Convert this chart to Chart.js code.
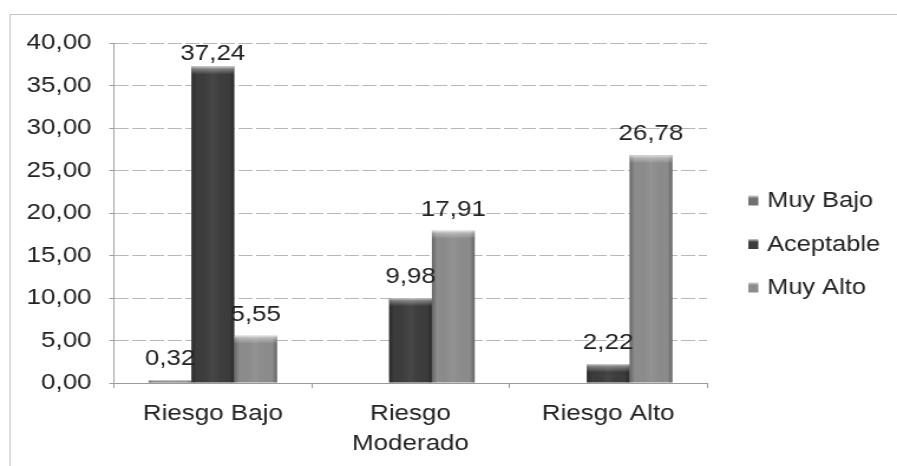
<!DOCTYPE html>
<html>
<head>
<meta charset="utf-8">
<script src="https://cdn.jsdelivr.net/npm/chart.js@4/dist/chart.umd.min.js"></script>
<style>
  html, body { margin: 0; padding: 0; background: #ffffff; }
</style>
</head>
<body>
<!-- the chart is laid out on a narrower canvas and shown stretched to the page width -->
<canvas id="chart" width="760" height="466" style="display:block;width:897px;height:466px;"></canvas>
<script>
// Categories and series
const categories = ['Riesgo Bajo', ['Riesgo', 'Moderado'], 'Riesgo Alto'];
const seriesNames = ['Muy Bajo', 'Aceptable', 'Muy Alto'];
const muyBajo   = [0.32, null, null];
const aceptable = [37.24, 9.98, 2.22];
const muyAlto   = [5.55, 17.91, 26.78];
const seriesColors = ['#727272', '#3c3c3c', '#8c8c8c'];

// Value axis
const yMin = 0;
const yMax = 40;
const yStep = 5;

const FONT = "'Liberation Sans', Arial, sans-serif";
const TEXT = '#222222';
const fmt = v => v.toFixed(2).replace('.', ',');

// light frame around the whole chart
const framePlugin = {
  id: 'frame',
  beforeDraw(chart) {
    const ctx = chart.ctx;
    ctx.save();
    ctx.strokeStyle = '#c4c4c4';
    ctx.lineWidth = 1;
    ctx.beginPath();
    ctx.moveTo(8.5, chart.height + 2);
    ctx.lineTo(8.5, 14.5);
    ctx.lineTo(chart.width + 2, 14.5);
    ctx.stroke();
    ctx.restore();
  }
};

// shaded sides and a bright top bevel on each bar
const bevelPlugin = {
  id: 'bevel',
  afterDatasetsDraw(chart) {
    const ctx = chart.ctx;
    chart.data.datasets.forEach((ds, i) => {
      const meta = chart.getDatasetMeta(i);
      meta.data.forEach((bar, j) => {
        if (ds.data[j] == null) return;
        const p = bar.getProps(['x', 'y', 'base', 'width'], true);
        const l = p.x - p.width / 2;
        const h = p.base - p.y;
        if (h <= 0) return;
        ctx.save();
        const g = ctx.createLinearGradient(l, 0, l + p.width, 0);
        g.addColorStop(0, 'rgba(0,0,0,0.28)');
        g.addColorStop(0.12, 'rgba(0,0,0,0)');
        g.addColorStop(0.5, 'rgba(255,255,255,0.06)');
        g.addColorStop(0.88, 'rgba(0,0,0,0)');
        g.addColorStop(1, 'rgba(0,0,0,0.28)');
        ctx.fillStyle = g;
        ctx.fillRect(l, p.y, p.width, h);
        const bh = Math.min(8, h);
        const t = ctx.createLinearGradient(0, p.y, 0, p.y + bh);
        t.addColorStop(0, 'rgba(255,255,255,0.75)');
        t.addColorStop(0.3, 'rgba(255,255,255,0.35)');
        t.addColorStop(1, 'rgba(255,255,255,0)');
        ctx.fillStyle = t;
        ctx.fillRect(l, p.y, p.width, bh);
        ctx.restore();
      });
    });
  }
};

// value labels above the bars
const valueLabelPlugin = {
  id: 'valueLabels',
  afterDatasetsDraw(chart) {
    const ctx = chart.ctx;
    const top = chart.chartArea.top;
    ctx.save();
    ctx.font = '22px ' + FONT;
    ctx.fillStyle = TEXT;
    ctx.textAlign = 'center';
    ctx.textBaseline = 'alphabetic';
    chart.data.datasets.forEach((ds, i) => {
      const meta = chart.getDatasetMeta(i);
      meta.data.forEach((bar, j) => {
        const v = ds.data[j];
        if (v == null) return;
        const yb = Math.max(bar.y - 15, top + 17);
        ctx.fillText(fmt(v), bar.x, yb);
      });
    });
    ctx.restore();
  }
};

// legend to the right of the plot
const legendPlugin = {
  id: 'sideLegend',
  afterDraw(chart) {
    const ctx = chart.ctx;
    const x0 = chart.chartArea.right + 35;
    const yMid = (chart.chartArea.top + chart.chartArea.bottom) / 2 + 31;
    const gap = 43.5;
    ctx.save();
    ctx.font = '21.5px ' + FONT;
    ctx.textBaseline = 'middle';
    ctx.textAlign = 'left';
    chart.data.datasets.forEach((ds, i) => {
      const cy = yMid + (i - 1) * gap;
      const g = ctx.createLinearGradient(0, cy - 5, 0, cy + 5);
      g.addColorStop(0, '#cfcfcf');
      g.addColorStop(0.3, ds.backgroundColor);
      g.addColorStop(1, ds.backgroundColor);
      ctx.fillStyle = g;
      ctx.fillRect(x0, cy - 5, 8.5, 10);
      ctx.fillStyle = TEXT;
      ctx.fillText(ds.label, x0 + 16, cy + 1);
    });
    ctx.restore();
  }
};

const datasets = [muyBajo, aceptable, muyAlto].map((values, i) => ({
  label: seriesNames[i],
  data: values,
  backgroundColor: seriesColors[i],
  borderWidth: 0,
  categoryPercentage: 0.65,
  barPercentage: 1.0
}));

new Chart(document.getElementById('chart'), {
  type: 'bar',
  data: { labels: categories, datasets },
  options: {
    responsive: false,
    animation: false,
    devicePixelRatio: 1,
    layout: { padding: { left: 8, top: 43, right: 161, bottom: 0 } },
    plugins: {
      legend: { display: false },
      tooltip: { enabled: false }
    },
    scales: {
      x: {
        offset: true,
        grid: {
          offset: true,
          drawOnChartArea: false,
          drawTicks: true,
          tickLength: 5,
          color: '#9a9a9a'
        },
        border: { display: true, color: '#9a9a9a', width: 1 },
        ticks: {
          color: TEXT,
          padding: 11,
          maxRotation: 0,
          autoSkip: false,
          font: { family: FONT, size: 22, lineHeight: 1.36 }
        },
        afterFit(scale) { scale.height = 83; }
      },
      y: {
        min: yMin,
        max: yMax,
        grid: {
          color: '#b8b8b8',
          lineWidth: 1,
          drawTicks: true,
          tickLength: 4,
          tickColor: '#9a9a9a'
        },
        border: { display: true, color: '#a0a0a0', width: 1, dash: [12, 3] },
        ticks: {
          stepSize: yStep,
          color: TEXT,
          padding: 15,
          font: { family: FONT, size: 22 },
          callback: v => fmt(v)
        },
        afterFit(scale) { scale.width = 88.6; }
      }
    }
  },
  plugins: [framePlugin, bevelPlugin, valueLabelPlugin, legendPlugin]
});
</script>
</body>
</html>
